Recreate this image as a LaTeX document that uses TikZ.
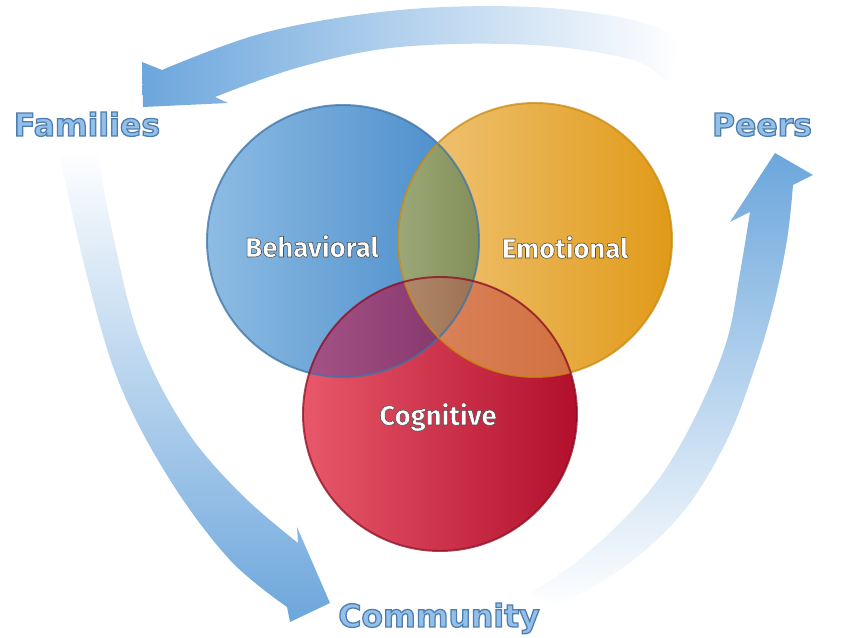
\documentclass[tikz,border=0pt]{standalone}
\usepackage{fontspec}
\usepackage{xcolor}
\usepackage{tikz}
\usetikzlibrary{calc}
% bold faces whose glyph outlines get stroked as well as filled
\newfontface\ringfont{DejaVu Sans Bold}[FakeBold=4]
\newfontface\vennfont{Fira Sans Bold}[FakeBold=2]
\definecolor{FlowBlue}{HTML}{6CA6DC}
\definecolor{LabelFill}{HTML}{92C0EA}
\definecolor{LabelEdge}{HTML}{4F7DAE}
\definecolor{BehL}{HTML}{8DBCE3}
\definecolor{BehR}{HTML}{4589C9}
\definecolor{BehEdge}{HTML}{3D74A8}
\definecolor{EmoL}{HTML}{F0C67C}
\definecolor{EmoR}{HTML}{E09A18}
\definecolor{EmoEdge}{HTML}{C98A12}
\definecolor{CogL}{HTML}{E8586A}
\definecolor{CogR}{HTML}{B20F2C}
\definecolor{CogEdge}{HTML}{8B0D22}
\definecolor{BeEmL}{HTML}{9CA878}
\definecolor{BeEmR}{HTML}{838F58}
\definecolor{BeCoL}{HTML}{A65488}
\definecolor{BeCoR}{HTML}{7E3064}
\definecolor{EmCoL}{HTML}{DC8660}
\definecolor{EmCoR}{HTML}{D0703F}
\definecolor{AllL}{HTML}{B08A6C}
\definecolor{AllR}{HTML}{9C7050}

% stroke colour for the glyph edges (the fill stays the node's text colour)
\newcommand\rimstroke[1]{\special{pdf:literal direct #1 RG}}

\begin{document}
\begin{tikzpicture}[x=0.02cm, y=-0.02cm,
    ring/.style={font={\ringfont\fontsize{17.9}{20}\selectfont},
      text=LabelFill, inner sep=0pt, anchor=base},
    venn/.style={font={\vennfont\fontsize{15.6}{18}\selectfont},
      text=white, inner sep=0pt, anchor=base},
    rim/.style={line width=1.1pt, draw opacity=0.75}
  ]
    \fill[white] (0,0) rectangle (863,638);
    \useasboundingbox (0,0) rectangle (863,638);

    \coordinate (beh) at (343,241);
    \coordinate (emo) at (535,240);
    \coordinate (cog) at (440,414);

    % flow bands round the circles
    \shade[left color=FlowBlue, middle color=FlowBlue!70, right color=white]
      plot[smooth, tension=0.6] coordinates {(680,38) (633,20) (533,7) (400,10) (267,32) (162,70)}
      -- (142,62) -- (143,107) -- (228,103)
      -- plot[smooth, tension=0.6] coordinates {(215,97) (300,67) (400,47) (533,45) (633,60) (667,83)}
      -- cycle;
    \shade[top color=white, bottom color=FlowBlue]
      plot[smooth, tension=0.6] coordinates {(97,150) (114,240) (140,340) (185,428) (240,493) (298,543)}
      -- (297,527) -- (330,603) -- (290,622)
      -- plot[smooth, tension=0.6] coordinates {(287,607) (230,560) (170,480) (120,385) (88,280) (60,157)}
      -- cycle;
    \shade[shading angle=-35, top color=FlowBlue, middle color=FlowBlue!80, bottom color=white]
      plot[smooth, tension=0.6] coordinates {(553,607) (587,590) (637,557) (687,507) (727,440) (753,373) (773,307) (787,240) (793,185)}
      -- (813,175) -- (775,153) -- (730,222)
      -- plot[smooth, tension=0.6] coordinates {(750,212) (740,273) (727,340) (700,407) (663,473) (620,523) (570,567) (530,593)}
      -- cycle;

    % the three circles
    \shade[left color=BehL, right color=BehR] (beh) circle[radius=136];
    \shade[left color=EmoL, right color=EmoR] (emo) circle[radius=137];
    \shade[left color=CogL, right color=CogR] (cog) circle[radius=137];

    \begin{scope}
      \clip (beh) circle[radius=136];
      \clip (emo) circle[radius=137];
      \shade[left color=BeEmL, right color=BeEmR] (397,100) rectangle (480,380);
    \end{scope}
    \begin{scope}
      \clip (beh) circle[radius=136];
      \clip (cog) circle[radius=137];
      \shade[left color=BeCoL, right color=BeCoR] (303,277) rectangle (480,380);
    \end{scope}
    \begin{scope}
      \clip (emo) circle[radius=137];
      \clip (cog) circle[radius=137];
      \shade[left color=EmCoL, right color=EmCoR] (397,277) rectangle (577,380);
    \end{scope}
    \begin{scope}
      \clip (beh) circle[radius=136];
      \clip (emo) circle[radius=137];
      \clip (cog) circle[radius=137];
      \shade[left color=AllL, right color=AllR] (397,277) rectangle (480,380);
    \end{scope}

    \draw[rim, BehEdge] (beh) circle[radius=136];
    \draw[rim, EmoEdge] (emo) circle[radius=137];
    \draw[rim, CogEdge] (cog) circle[radius=137];

    \node[venn] (behavioral) at (312,257) {\rimstroke{0.3 0.3 0.3}Behavioral};
    \node[venn] (emotional) at (565,258) {\rimstroke{0.3 0.3 0.3}Emotional};
    \node[venn] (cognitive) at (438,425) {\rimstroke{0.3 0.3 0.3}Cognitive};

    \node[ring] (families) at (87,136) {\rimstroke{0.310 0.490 0.682}Families};
    \node[ring] (peers) at (762,136) {\rimstroke{0.310 0.490 0.682}Peers};
    \node[ring] (community) at (439,627) {\rimstroke{0.310 0.490 0.682}Community};
\end{tikzpicture}
\end{document}
